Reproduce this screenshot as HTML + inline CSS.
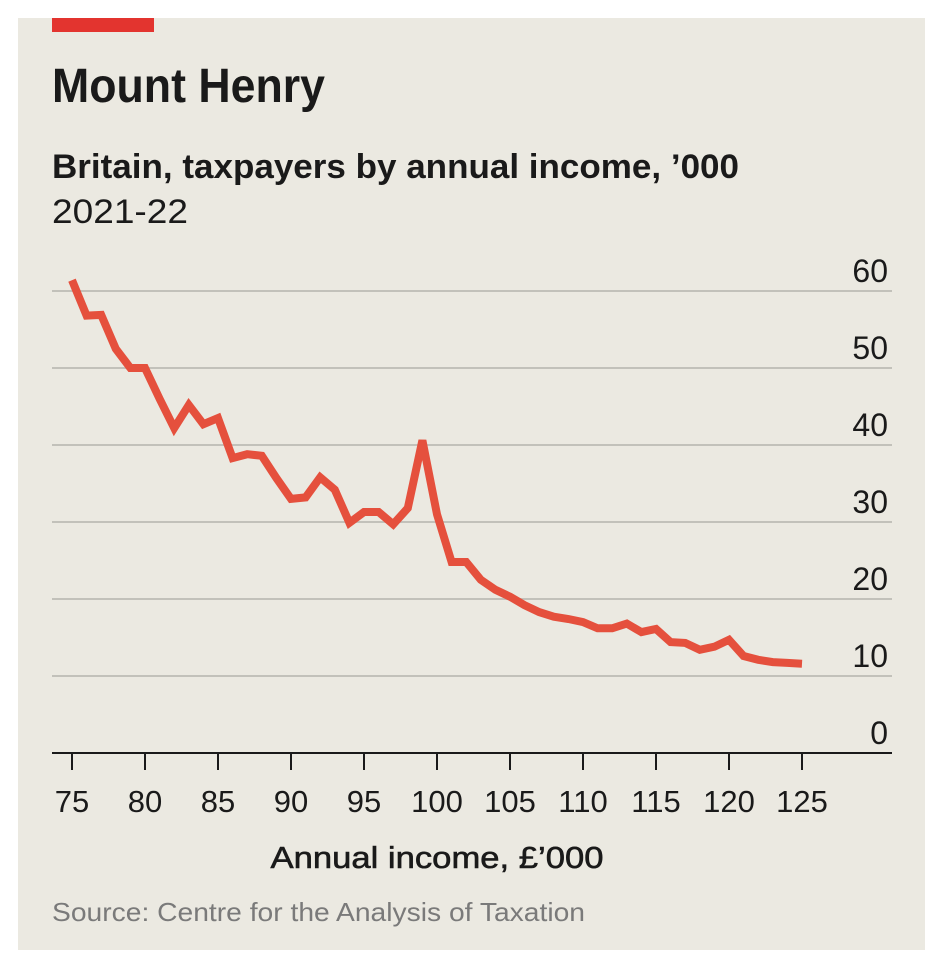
<!DOCTYPE html>
<html><head><meta charset="utf-8"><style>
html,body{margin:0;padding:0;background:#fff;}
svg{display:block;}
text{font-family:"Liberation Sans",sans-serif;}
</style></head><body>
<svg width="948" height="962" viewBox="0 0 948 962">
<rect x="18" y="18" width="907" height="932" fill="#ebe9e1"/>
<rect x="52" y="18" width="102" height="14" fill="#e3342f"/>
<text x="52" y="102" font-size="48" font-weight="bold" fill="#1a1a1a" textLength="273" lengthAdjust="spacingAndGlyphs">Mount Henry</text>
<text x="52" y="178" font-size="34" font-weight="bold" fill="#1a1a1a" textLength="687" lengthAdjust="spacingAndGlyphs">Britain, taxpayers by annual income, ’000</text>
<text x="52" y="223" font-size="34" fill="#1a1a1a" textLength="136" lengthAdjust="spacingAndGlyphs">2021-22</text>
<g id="grid"></g>
<g id="xaxis"></g>
<path id="series" fill="none" stroke="#e5503d" stroke-width="8" stroke-linejoin="miter" stroke-linecap="butt"/>
<text x="437" y="868" font-size="31" fill="#1a1a1a" stroke="#1a1a1a" stroke-width="0.6" text-anchor="middle" textLength="333" lengthAdjust="spacingAndGlyphs">Annual income, £’000</text>
<text x="52" y="921" font-size="26" fill="#7a7a7a" textLength="533" lengthAdjust="spacingAndGlyphs">Source: Centre for the Analysis of Taxation</text>
</svg>
<script>
const incomes = [75,76,77,78,79,80,81,82,83,84,85,86,87,88,89,90,91,92,93,94,95,96,97,98,99,100,101,102,103,104,105,106,107,108,109,110,111,112,113,114,115,116,117,118,119,120,121,122,123,124,125];
const taxpayers = [61.4,56.8,56.9,52.5,50,50,46,42.2,45.2,42.7,43.5,38.3,38.8,38.6,35.7,33,33.2,35.8,34.2,29.9,31.3,31.3,29.7,31.8,40.6,31,24.8,24.8,22.5,21.2,20.3,19.2,18.3,17.7,17.4,17,16.2,16.2,16.8,15.7,16.1,14.4,14.3,13.4,13.8,14.7,12.6,12.1,11.8,11.7,11.6];
const yTicks = [0,10,20,30,40,50,60];
const xTicks = [75,80,85,90,95,100,105,110,115,120,125];

const NS = "http://www.w3.org/2000/svg";
function xs(v){ return 72 + (v-75)*14.6; }
function ys(v){ return 753 - v*7.7; }

const grid = document.getElementById('grid');
yTicks.forEach(function(t){
  const l = document.createElementNS(NS,'line');
  l.setAttribute('x1',52); l.setAttribute('x2',892);
  l.setAttribute('y1',ys(t)); l.setAttribute('y2',ys(t));
  l.setAttribute('stroke', t===0 ? '#1a1a1a' : '#c2c1ba');
  l.setAttribute('stroke-width', 2);
  
  
  grid.appendChild(l);
  const tx = document.createElementNS(NS,'text');
  tx.setAttribute('x',888); tx.setAttribute('y',ys(t)-9);
  tx.setAttribute('text-anchor','end');
  tx.setAttribute('font-size','32');
  tx.setAttribute('fill','#1a1a1a');
  tx.textContent = t;
  
  
  grid.appendChild(tx);
});
const xa = document.getElementById('xaxis');
xTicks.forEach(function(t){
  const l = document.createElementNS(NS,'line');
  l.setAttribute('x1',xs(t)); l.setAttribute('x2',xs(t));
  l.setAttribute('y1',753); l.setAttribute('y2',770);
  l.setAttribute('stroke','#1a1a1a'); l.setAttribute('stroke-width',2);
  
  
  xa.appendChild(l);
  const tx = document.createElementNS(NS,'text');
  tx.setAttribute('x',xs(t)); tx.setAttribute('y',812);
  tx.setAttribute('text-anchor','middle');
  tx.setAttribute('font-size','31');
  tx.setAttribute('fill','#1a1a1a');
  tx.textContent = t;
  
  
  xa.appendChild(tx);
});
let d = '';
incomes.forEach(function(v,i){ d += (i?'L':'M') + xs(v).toFixed(1) + ',' + ys(taxpayers[i]).toFixed(1); });
document.getElementById('series').setAttribute('d', d);
</script>
</body></html>
